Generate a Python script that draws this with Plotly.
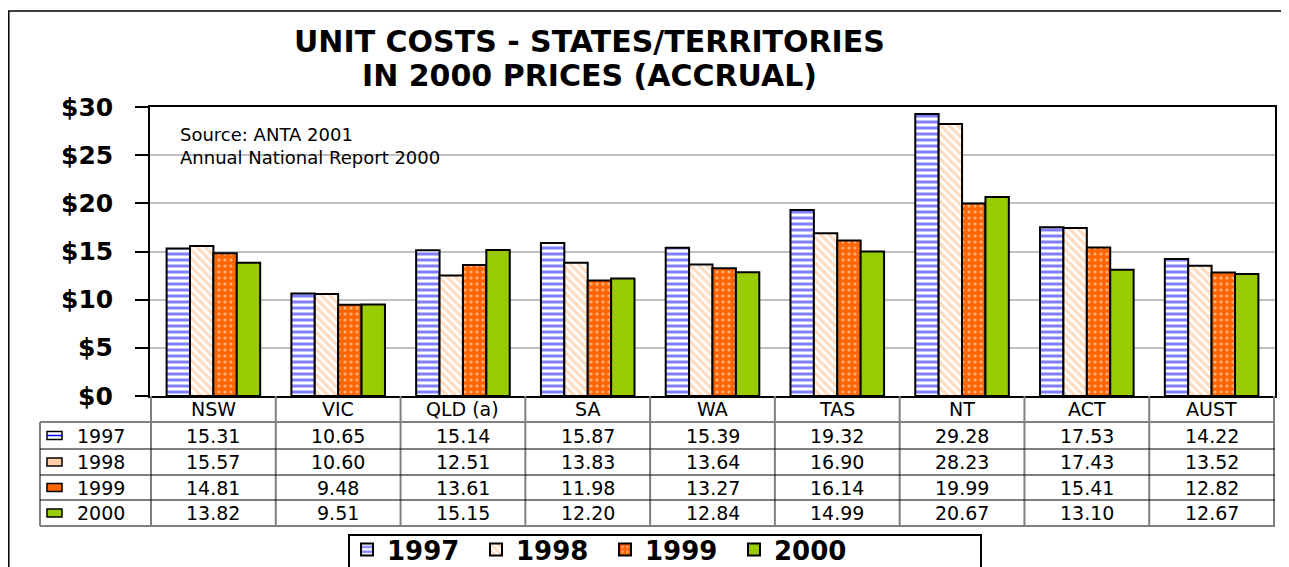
import plotly.graph_objects as go

categories = ["NSW", "VIC", "QLD (a)", "SA", "WA", "TAS", "NT", "ACT", "AUST"]
years = ["1997", "1998", "1999", "2000"]
v1997 = [15.31, 10.65, 15.14, 15.87, 15.39, 19.32, 29.28, 17.53, 14.22]
v1998 = [15.57, 10.60, 12.51, 13.83, 13.64, 16.90, 28.23, 17.43, 13.52]
v1999 = [14.81, 9.48, 13.61, 11.98, 13.27, 16.14, 19.99, 15.41, 12.82]
v2000 = [13.82, 9.51, 15.15, 12.20, 12.84, 14.99, 20.67, 13.10, 12.67]
series = [v1997, v1998, v1999, v2000]
y_ticks = [0, 5, 10, 15, 20, 25, 30]
y_ticklabels = ["$0", "$5", "$10", "$15", "$20", "$25", "$30"]

# page body has an 8px margin; figure coordinates = page coordinates - 8
OFF = 8
W, H = 1289 - OFF, 567 - OFF
PL, PR, PT, PB = 150, 1275, 107, 396   # plot area in page pixels
L, T = PL - OFF, PT - OFF
R = W - (PR - OFF)
B = H - (PB - OFF)
PW, PH = W - L - R, H - T - B
FONT = "DejaVu Sans, Verdana, sans-serif"


def px_x(px):
    return (px - PL) / PW


def px_y(py):
    return (PB - py) / PH


styles = [
    dict(color="white", pattern=dict(shape="-", fgcolor="#0000FF", bgcolor="white", size=6, solidity=0.5)),
    dict(color="white", pattern=dict(shape="\\", fgcolor="#FFBB85", bgcolor="white", size=6, solidity=0.55)),
    dict(color="#FF6600", pattern=dict(shape=".", fgcolor="white", bgcolor="#FF6600", size=6, solidity=0.22)),
    dict(color="#99CC00"),
]

fig = go.Figure()
for yr, vals, st in zip(years, series, styles):
    fig.add_trace(go.Bar(
        x=categories, y=vals, name=yr,
        marker=dict(line=dict(color="black", width=2), **st),
        hoverinfo="x+y+name",
    ))

shapes = []
annotations = []

# y tick labels as text placed on the y scale
for v, lab in zip(y_ticks, y_ticklabels):
    annotations.append(dict(x=px_x(115), y=v, xref="paper", yref="y", text=lab,
                            showarrow=False, xanchor="right", yanchor="middle",
                            font=dict(family=FONT, size=25, color="black", weight="bold")))

# Table geometry (page pixel rows)
row_edges = [396, 422, 449, 475, 500, 526]
gray = "#808080"
for i in range(len(categories) + 1):
    shapes.append(dict(type="line", xref="x", yref="paper",
                       x0=i - 0.5, x1=i - 0.5, y0=px_y(396), y1=px_y(526),
                       line=dict(color=gray, width=2)))
shapes.append(dict(type="line", xref="paper", yref="paper",
                   x0=px_x(40), x1=px_x(40), y0=px_y(422), y1=px_y(526),
                   line=dict(color=gray, width=2)))
for k, ry in enumerate(row_edges[1:]):
    col = gray if k in (0, len(row_edges) - 2) else "black"
    wdt = 2 if col == gray else 1
    shapes.append(dict(type="line", xref="paper", yref="paper",
                       x0=px_x(40), x1=1, y0=px_y(ry), y1=px_y(ry),
                       line=dict(color=col, width=wdt)))

TFS = 19
for i, c in enumerate(categories):
    annotations.append(dict(x=i, y=px_y((row_edges[0] + row_edges[1]) / 2), xref="x", yref="paper",
                            text=c, showarrow=False, font=dict(family=FONT, size=TFS, color="black"),
                            xanchor="center", yanchor="middle"))

sym_fill = ["white", "#FFD0A8", "#FF6600", "#99CC00"]
for r, (yr, vals) in enumerate(zip(years, series)):
    yc = (row_edges[r + 1] + row_edges[r + 2]) / 2
    for i, v in enumerate(vals):
        annotations.append(dict(x=i, y=px_y(yc), xref="x", yref="paper",
                                text=f"{v:.2f}", showarrow=False,
                                font=dict(family=FONT, size=TFS, color="black"),
                                xanchor="center", yanchor="middle"))
    annotations.append(dict(x=px_x(75), y=px_y(yc), xref="paper", yref="paper",
                            text=yr, showarrow=False,
                            font=dict(family=FONT, size=TFS, color="black"),
                            xanchor="left", yanchor="middle"))
    shapes.append(dict(type="rect", xref="paper", yref="paper",
                       x0=px_x(47), x1=px_x(62), y0=px_y(yc + 4), y1=px_y(yc - 4),
                       fillcolor=sym_fill[r], line=dict(color="black", width=1.5)))
    if r == 0:
        shapes.append(dict(type="line", xref="paper", yref="paper",
                           x0=px_x(47), x1=px_x(62), y0=px_y(yc), y1=px_y(yc),
                           line=dict(color="#0000FF", width=1.5)))

# outer border (left and top)
shapes.append(dict(type="line", xref="paper", yref="paper",
                   x0=px_x(8.8), x1=px_x(8.8), y0=px_y(11), y1=px_y(580),
                   line=dict(color="black", width=1.5)))
shapes.append(dict(type="line", xref="paper", yref="paper",
                   x0=px_x(8), x1=px_x(1300), y0=px_y(11), y1=px_y(11),
                   line=dict(color="black", width=1.5)))

# legend box
shapes.append(dict(type="rect", xref="paper", yref="paper",
                   x0=px_x(349), x1=px_x(981), y0=px_y(535), y1=px_y(590),
                   fillcolor="white", line=dict(color="black", width=2)))

# source note
annotations.append(dict(x=px_x(178), y=px_y(122), xref="paper", yref="paper",
                        text="Source: ANTA 2001<br>Annual National Report 2000",
                        showarrow=False, align="left", xanchor="left", yanchor="top",
                        font=dict(family=FONT, size=18, color="black")))

# title (two lines, stacked without overlapping boxes)
TTL = dict(family=FONT, size=30, color="black", weight="bold")
annotations.append(dict(x=px_x(589), y=px_y(60), xref="paper", yref="paper",
                        text="UNIT COSTS - STATES/TERRITORIES", showarrow=False,
                        xanchor="center", yanchor="bottom", font=TTL, borderpad=0))
annotations.append(dict(x=px_x(589), y=px_y(57), xref="paper", yref="paper",
                        text="IN 2000 PRICES (ACCRUAL)", showarrow=False,
                        xanchor="center", yanchor="top", font=TTL, borderpad=0))

fig.update_layout(
    width=W, height=H,
    margin=dict(l=L, r=R, t=T, b=B, autoexpand=False),
    paper_bgcolor="white", plot_bgcolor="white",
    barmode="group", bargap=0.25, bargroupgap=0.0,
    showlegend=True,
    legend=dict(orientation="h", x=px_x(347), y=px_y(526), xanchor="left", yanchor="top",
                bgcolor="rgba(0,0,0,0)", borderwidth=0,
                font=dict(family=FONT, size=26, color="black", weight="bold"),
                entrywidth=84, entrywidthmode="pixels", traceorder="normal",
                itemwidth=30),
    xaxis=dict(showticklabels=False, ticks="", showline=True, linecolor="black", linewidth=2,
               mirror=True, showgrid=False, fixedrange=True),
    yaxis=dict(range=[0, 30], tickvals=y_ticks, showticklabels=False, ticks="outside",
               ticklen=13, tickcolor="black", tickwidth=1.5,
               showline=True, linecolor="black", linewidth=2, mirror=True,
               showgrid=True, gridcolor="#C0C0C0", gridwidth=1.5, zeroline=False),
    shapes=shapes,
    annotations=annotations,
)

fig.write_html("out.html")
